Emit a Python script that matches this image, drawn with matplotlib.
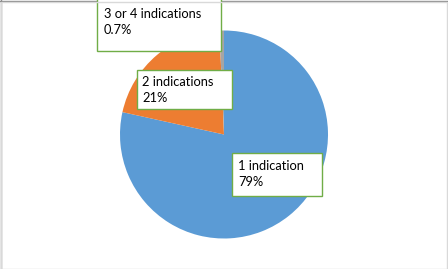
import matplotlib.pyplot as plt
from matplotlib.patches import Rectangle

categories = ["1 indication", "2 indications", "3 or 4 indications"]
shares = [79.0, 21.0, 0.7]
pct_labels = ["79%", "21%", "0.7%"]
colors = ["#5B9BD5", "#ED7D31", "#A5A5A5"]

W, H = 448, 269
fig = plt.figure(figsize=(W / 100, H / 100), dpi=100)
plt.rcParams['font.family'] = ['Lato', 'DejaVu Sans']

# pie: centre (224, 134.5) px, radius 104 px
cx, cy, r = 224, 134.5, 104
ax = fig.add_axes([(cx - r) / W, (H - cy - r) / H, 2 * r / W, 2 * r / H])
ax.pie(shares, colors=colors, startangle=90, counterclock=False,
       radius=1, wedgeprops=dict(linewidth=0))
ax.set_xlim(-1, 1)
ax.set_ylim(-1, 1)
ax.axis('off')

# label boxes in pixels: left, top, right, bottom
boxes = [(232, 153, 322, 196), (137, 70, 232, 109), (97, -2, 221, 51)]
text_pos = [(238, 174.5), (142, 90.5), (104, 22.5)]

for i in range(len(categories)):
    x0, y0, x1, y1 = boxes[i]
    fig.patches.append(Rectangle((x0 / W, 1 - y1 / H), (x1 - x0) / W, (y1 - y0) / H,
                                 transform=fig.transFigure, facecolor='white',
                                 edgecolor='#70AD47', linewidth=1.0, zorder=3))
    tx, ty = text_pos[i]
    fig.text(tx / W, 1 - ty / H, categories[i] + "\n" + pct_labels[i],
             ha='left', va='center', fontsize=9.3, color='#000000',
             linespacing=1.4, zorder=4)

# outer chart border
fig.patches.append(Rectangle((0.5 / W, 0.5 / H), (W - 2) / W, (H - 2) / H,
                             transform=fig.transFigure, facecolor='none',
                             edgecolor='#D9D9D9', linewidth=1.0, zorder=5))
fig.add_artist(plt.Line2D([0.5 / W, 0.5 / W], [0, 1], color='#8C8C8C', linewidth=1.0))
fig.add_artist(plt.Line2D([0, 1], [1 - 0.5 / H, 1 - 0.5 / H], color='#8C8C8C', linewidth=1.0))

fig.savefig("out.png", dpi=100)
